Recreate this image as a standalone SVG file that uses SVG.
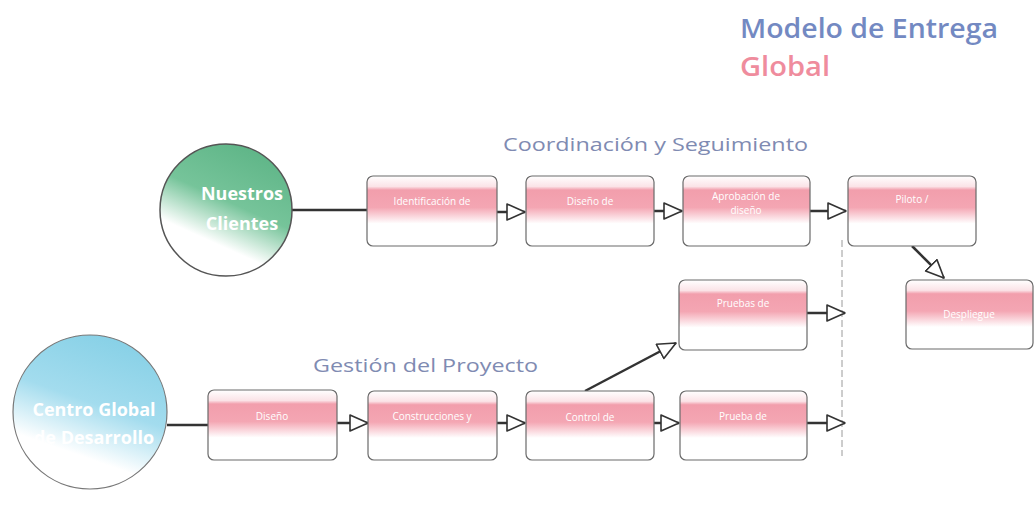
<svg xmlns="http://www.w3.org/2000/svg" width="1035" height="508" viewBox="0 0 1035 508">
<defs>
<linearGradient id="band" x1="0" y1="0" x2="0" y2="1">
<stop offset="0" stop-color="#ffffff"/>
<stop offset="0.15" stop-color="#fbe3e7"/>
<stop offset="0.2" stop-color="#f29eac"/>
<stop offset="0.45" stop-color="#f4a6b3"/>
<stop offset="0.68" stop-color="#ffffff"/>
<stop offset="1" stop-color="#ffffff"/>
</linearGradient>
<linearGradient id="green" x1="0.75" y1="0" x2="0.3" y2="1">
<stop offset="0" stop-color="#5db486"/>
<stop offset="0.45" stop-color="#76c49a"/>
<stop offset="0.75" stop-color="#ffffff"/>
<stop offset="1" stop-color="#ffffff"/>
</linearGradient>
<linearGradient id="cyan" x1="0.7" y1="0" x2="0.35" y2="1">
<stop offset="0" stop-color="#86d0e6"/>
<stop offset="0.45" stop-color="#a3dcee"/>
<stop offset="0.78" stop-color="#ffffff"/>
<stop offset="1" stop-color="#ffffff"/>
</linearGradient>
<marker id="tri" markerUnits="userSpaceOnUse" markerWidth="22" markerHeight="20" refX="19" refY="9" orient="auto">
<path d="M1,1 L19,9 L1,17 z" fill="#ffffff" stroke="#333333" stroke-width="1.6" stroke-linejoin="round"/>
</marker>
</defs>
<style>
.box{fill:url(#band);stroke:#6a6a6a;stroke-width:1.2}
.bt{font-family:"Open Sans","Liberation Sans",sans-serif;font-size:10px;fill:#ffffff;text-anchor:middle}
.ct{font-family:"Open Sans","Liberation Sans",sans-serif;font-size:18px;font-weight:700;fill:#ffffff;text-anchor:middle}
.hd{font-family:"Open Sans","Liberation Sans",sans-serif;font-size:19px;fill:#7f8bb2}
.con{fill:none;stroke:#333333;stroke-width:2.5}
</style>
<g id="title">
<text x="740" y="38" font-family="'Open Sans','Liberation Sans',sans-serif" font-size="27" font-weight="600" fill="#7389c2" textLength="258" lengthAdjust="spacingAndGlyphs">Modelo de Entrega</text>
<text x="740" y="76" font-family="'Open Sans','Liberation Sans',sans-serif" font-size="27" font-weight="600" fill="#ef8c9d" textLength="90" lengthAdjust="spacingAndGlyphs">Global</text>
</g>
<g id="label-coord"><text class="hd" x="503" y="151" textLength="305" lengthAdjust="spacingAndGlyphs">Coordinación y Seguimiento</text></g>
<g id="label-gestion"><text class="hd" x="313" y="372" textLength="225" lengthAdjust="spacingAndGlyphs">Gestión del Proyecto</text></g>
<g id="connectors">
<line x1="842" y1="240" x2="842" y2="456" stroke="#9a9a9a" stroke-width="1" stroke-dasharray="7 3"/>
<line class="con" x1="292" y1="210" x2="367" y2="210"/>
<line class="con" x1="497" y1="212" x2="525" y2="212" marker-end="url(#tri)"/>
<line class="con" x1="654" y1="211" x2="682" y2="211" marker-end="url(#tri)"/>
<line class="con" x1="810" y1="211" x2="846" y2="211" marker-end="url(#tri)"/>
<line class="con" x1="912" y1="246" x2="944" y2="278" marker-end="url(#tri)"/>
<line class="con" x1="807" y1="313" x2="845" y2="313" marker-end="url(#tri)"/>
<line class="con" x1="585" y1="391" x2="676" y2="343" marker-end="url(#tri)"/>
<line class="con" x1="167" y1="425" x2="208" y2="425"/>
<line class="con" x1="337" y1="423" x2="368" y2="423" marker-end="url(#tri)"/>
<line class="con" x1="497" y1="423" x2="525" y2="423" marker-end="url(#tri)"/>
<line class="con" x1="654" y1="423" x2="679" y2="423" marker-end="url(#tri)"/>
<line class="con" x1="807" y1="423" x2="845" y2="423" marker-end="url(#tri)"/>
</g>
<g id="nuestros-clientes">
<circle cx="226" cy="210" r="66" fill="url(#green)" stroke="#555555" stroke-width="1.5"/>
<text class="ct" x="242" y="200">Nuestros</text>
<text class="ct" x="242" y="230">Clientes</text>
</g>
<g id="centro-global">
<circle cx="90" cy="412" r="77" fill="url(#cyan)" stroke="#777777" stroke-width="1.2"/>
<text class="ct" x="94" y="416">Centro Global</text>
<text class="ct" x="94" y="444">de Desarrollo</text>
</g>
<g id="identificacion"><rect class="box" x="367" y="176" width="130" height="70" rx="6"/><text class="bt" x="432" y="205">Identificación de</text></g>
<g id="diseno-de"><rect class="box" x="526" y="176" width="128" height="70" rx="6"/><text class="bt" x="590" y="205">Diseño de</text></g>
<g id="aprobacion"><rect class="box" x="683" y="176" width="127" height="70" rx="6"/><text class="bt" x="746" y="200">Aprobación de</text><text class="bt" x="746" y="214">diseño</text></g>
<g id="piloto"><rect class="box" x="848" y="176" width="128" height="70" rx="6"/><text class="bt" x="912" y="203">Piloto /</text></g>
<g id="pruebas-de"><rect class="box" x="679" y="280" width="128" height="70" rx="6"/><text class="bt" x="743" y="307">Pruebas de</text></g>
<g id="despliegue"><rect class="box" x="906" y="280" width="127" height="69" rx="6"/><text class="bt" x="969" y="318">Despliegue</text></g>
<g id="diseno"><rect class="box" x="208" y="390" width="129" height="70" rx="6"/><text class="bt" x="272" y="420">Diseño</text></g>
<g id="construcciones"><rect class="box" x="368" y="391" width="129" height="69" rx="6"/><text class="bt" x="432" y="420">Construcciones y</text></g>
<g id="control"><rect class="box" x="526" y="391" width="128" height="69" rx="6"/><text class="bt" x="590" y="421">Control de</text></g>
<g id="prueba"><rect class="box" x="680" y="391" width="127" height="69" rx="6"/><text class="bt" x="743" y="420">Prueba de</text></g>
</svg>
